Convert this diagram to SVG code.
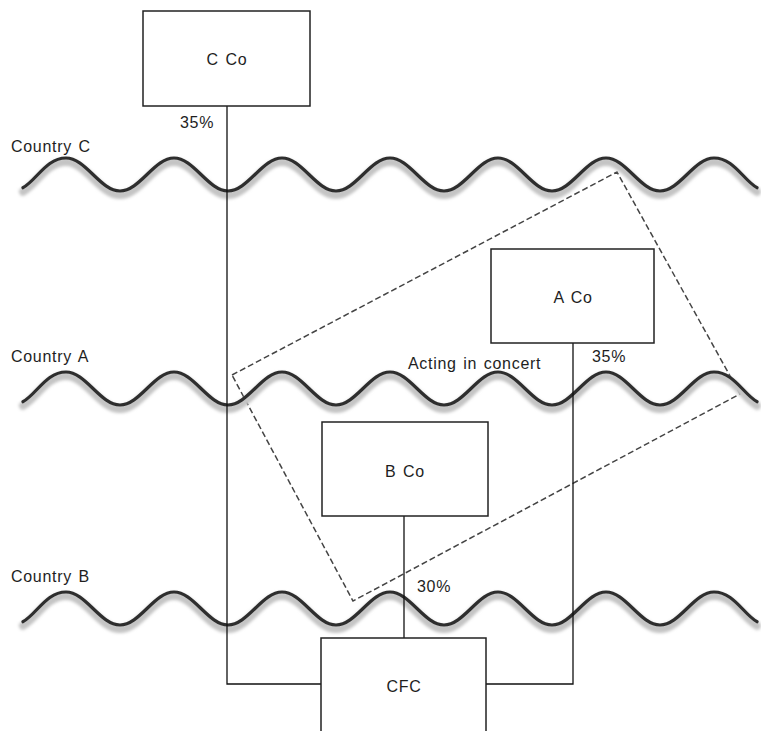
<svg xmlns="http://www.w3.org/2000/svg" xmlns:xlink="http://www.w3.org/1999/xlink" width="761" height="731" viewBox="0 0 761 731">
<style>
.box{fill:#fff;stroke:#222;stroke-width:1.5}
.lbl{font-family:"Liberation Sans",Arial,sans-serif;font-size:16px;fill:#1e1e1e;letter-spacing:0.7px;word-spacing:1.5px}
.c{text-anchor:middle}
.wave{fill:none;stroke:#2e2e2e;stroke-width:3.2;stroke-linecap:round}
.shadow{fill:none;stroke:#c4c4c4;stroke-width:8;stroke-linecap:round}
.conn{fill:none;stroke:#111;stroke-width:1.3}
.dash{fill:none;stroke:#444;stroke-width:1.5;stroke-dasharray:6 3}
</style>
<defs>
<filter id="blur" x="-5%" y="-50%" width="110%" height="200%"><feGaussianBlur stdDeviation="1.8"/></filter>
<path id="w" d="M23,187.7 C37,179.7 46.3,158 66,158 S100.3,191 120,191 S154.3,158 174,158 S208.3,191 228,191 S262.3,158 282,158 S316.3,191 336,191 S370.3,158 390,158 S424.3,191 444,191 S478.3,158 498,158 S532.3,191 552,191 S586.3,158 606,158 S640.3,191 660,191 S694.3,158 714,158 S743,179.7 757,187.7"/>
</defs>
<rect width="761" height="731" fill="#fff"/>
<g id="concert-group">
<polygon class="dash" points="232,375 617,172 740,394 353,601"/>
</g>
<g id="borders">
<g id="country-c">
<use href="#w" xlink:href="#w" class="shadow" transform="translate(0,4)" filter="url(#blur)"/>
<use href="#w" xlink:href="#w" class="wave"/>
<text class="lbl" x="11" y="152">Country C</text>
</g>
<g id="country-a">
<use href="#w" xlink:href="#w" class="shadow" transform="translate(0,218)" filter="url(#blur)"/>
<use href="#w" xlink:href="#w" class="wave" transform="translate(0,214)"/>
<text class="lbl" x="11" y="362">Country A</text>
</g>
<g id="country-b">
<use href="#w" xlink:href="#w" class="shadow" transform="translate(0,438)" filter="url(#blur)"/>
<use href="#w" xlink:href="#w" class="wave" transform="translate(0,434)"/>
<text class="lbl" x="11" y="582">Country B</text>
</g>
</g>
<g id="connectors">
<path class="conn" d="M227,106 V684 H321"/>
<path class="conn" d="M573,343 V684 H486"/>
<path class="conn" d="M404,516 V638"/>
<text class="lbl" x="180" y="128">35%</text>
<text class="lbl" x="592" y="362">35%</text>
<text class="lbl" x="417" y="592">30%</text>
</g>
<text class="lbl" x="408" y="369">Acting in concert</text>
<g id="c-co">
<rect class="box" x="143" y="11" width="167" height="95"/>
<text class="lbl c" x="227" y="65">C Co</text>
</g>
<g id="a-co">
<rect class="box" x="491" y="249" width="163" height="94"/>
<text class="lbl c" x="573" y="303">A Co</text>
</g>
<g id="b-co">
<rect class="box" x="322" y="422" width="166" height="94"/>
<text class="lbl c" x="405" y="477">B Co</text>
</g>
<g id="cfc">
<rect class="box" x="321" y="638" width="165" height="100"/>
<text class="lbl c" x="404" y="692">CFC</text>
</g>
</svg>
